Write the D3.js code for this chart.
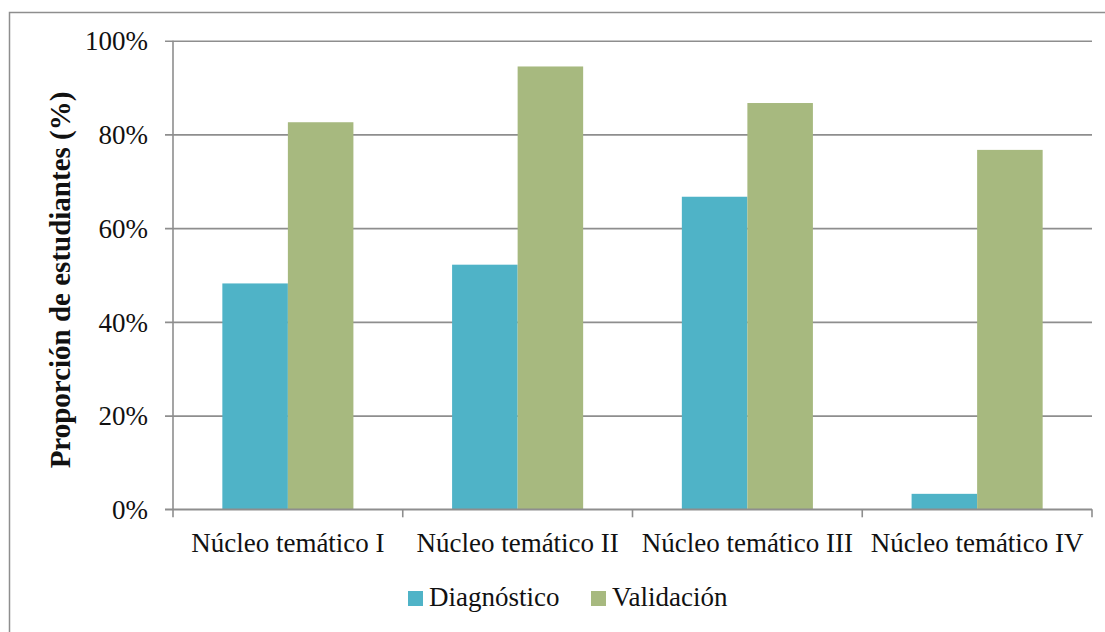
<!DOCTYPE html>
<html>
<head>
<meta charset="utf-8">
<script src="https://cdn.jsdelivr.net/npm/d3@7/dist/d3.min.js"></script>
<style>
  html, body { margin: 0; padding: 0; background: #fff; }
  svg { display: block; }
  text { font-family: "Liberation Serif", "Times New Roman", serif; fill: #111; }
</style>
</head>
<body>
<svg id="chart" width="1105" height="632"></svg>
<script>
// Proporción de estudiantes por núcleo temático (%)
const categories = ["Núcleo temático I", "Núcleo temático II", "Núcleo temático III", "Núcleo temático IV"];
const seriesNames = ["Diagnóstico", "Validación"];
const diagnostico = [48.2, 52.2, 66.7, 3.3];
const validacion = [82.6, 94.5, 86.7, 76.7];
const yTicks = [0, 20, 40, 60, 80, 100];
const seriesColors = ["#4fb3c7", "#a7b97f"];

const serif = "'Liberation Serif', 'Times New Roman', serif";
const rows = categories.map((c, i) => ({ cat: c, values: [diagnostico[i], validacion[i]] }));

const svg = d3.select("#chart");
const W = 1105, H = 632;
const margin = { left: 173, right: 1105 - 1092, top: 40.7, bottom: 632 - 509.3 };
const innerW = W - margin.left - margin.right;
const innerH = H - margin.top - margin.bottom;
const gridColor = "#8e8e8e";

// chart frame
svg.append("rect")
  .attr("x", 9.5).attr("y", 12.5)
  .attr("width", W + 20).attr("height", H + 20)
  .attr("fill", "none").attr("stroke", gridColor).attr("stroke-width", 1.5);

const g = svg.append("g").attr("transform", `translate(${margin.left},${margin.top})`);

const x0 = d3.scaleBand().domain(categories).range([0, innerW]).paddingInner(0).paddingOuter(0);
const x1 = d3.scaleBand().domain(seriesNames).range([0, x0.bandwidth()]).paddingInner(0).paddingOuter(0.753);
const y = d3.scaleLinear().domain([0, 100]).range([innerH, 0]);

// y axis with gridlines
const yAxis = g.append("g")
  .call(d3.axisLeft(y).tickValues(yTicks).tickFormat(d => d + "%").tickSizeOuter(0));
yAxis.attr("font-family", null);
yAxis.select(".domain").remove();
yAxis.selectAll(".tick line")
  .attr("x1", -8).attr("x2", innerW)
  .attr("stroke", gridColor).attr("stroke-width", 1.6);
yAxis.selectAll(".tick text")
  .attr("x", -25).attr("dy", "0.34em")
  .style("font-family", serif)
  .style("font-size", "27px").attr("fill", "#111");

// vertical axis line
g.append("line")
  .attr("x1", 0).attr("x2", 0).attr("y1", 0).attr("y2", innerH)
  .attr("stroke", gridColor).attr("stroke-width", 1.6);

// bars
const groups = g.selectAll(".grp").data(rows).join("g")
  .attr("class", "grp")
  .attr("transform", d => `translate(${x0(d.cat)},0)`);
groups.selectAll("rect")
  .data(d => d.values.map((v, i) => ({ name: seriesNames[i], value: v, i })))
  .join("rect")
  .attr("x", d => x1(d.name))
  .attr("width", x1.bandwidth())
  .attr("y", d => y(d.value))
  .attr("height", d => innerH - y(d.value))
  .attr("fill", d => seriesColors[d.i]);

// x axis
const xAxis = g.append("g").attr("transform", `translate(0,${innerH})`)
  .call(d3.axisBottom(x0).tickSize(0).tickSizeOuter(0));
xAxis.attr("font-family", null);
xAxis.select(".domain").remove();
xAxis.selectAll(".tick text")
  .attr("y", 43).attr("dy", 0)
  .style("font-family", serif)
  .style("font-size", "27px").attr("fill", "#111");

g.append("line")
  .attr("x1", -8).attr("x2", innerW).attr("y1", innerH).attr("y2", innerH)
  .attr("stroke", gridColor).attr("stroke-width", 1.6);
const boundaries = categories.map(c => x0(c)).concat([innerW]);
g.selectAll(".xtick").data(boundaries).join("line")
  .attr("class", "xtick")
  .attr("x1", d => d).attr("x2", d => d)
  .attr("y1", innerH).attr("y2", innerH + 8)
  .attr("stroke", gridColor).attr("stroke-width", 1.6);

// y axis title
svg.append("text")
  .attr("transform", `translate(70,280) rotate(-90)`)
  .attr("text-anchor", "middle")
  .style("font-family", serif)
  .style("font-size", "29px").style("font-weight", "bold")
  .text("Proporción de estudiantes (%)");

// legend
const legendItems = [
  { name: seriesNames[0], color: seriesColors[0], x: 408 },
  { name: seriesNames[1], color: seriesColors[1], x: 591 }
];
const lg = svg.append("g");
lg.selectAll("rect").data(legendItems).join("rect")
  .attr("x", d => d.x).attr("y", 591)
  .attr("width", 15).attr("height", 15)
  .attr("fill", d => d.color);
lg.selectAll("text").data(legendItems).join("text")
  .attr("x", d => d.x + 21).attr("y", 606)
  .style("font-family", serif)
  .style("font-size", "27px")
  .text(d => d.name);
</script>
</body>
</html>
